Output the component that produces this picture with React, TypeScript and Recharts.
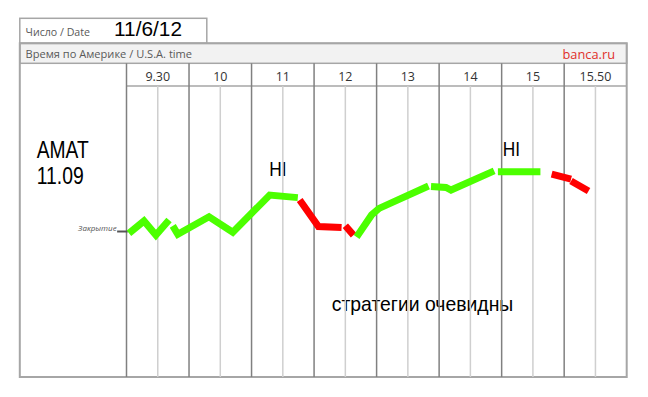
import React from 'react'
import { LineChart, Line, XAxis, YAxis, ReferenceLine } from 'recharts'

// header columns (US session hours)
const hourLabels = ['9.30', '10', '11', '12', '13', '14', '15', '15.50']
const columnCenters = [0.5, 1.5, 2.5, 3.5, 4.5, 5.5, 6.5, 7.5]
const hourLines = [0, 1, 2, 3, 4, 5, 6, 7]
const halfHourLines = [0.5, 1.5, 2.5, 3.5, 4.5, 5.5, 6.5, 7.5]

const ticker = 'AMAT'
const closePrice = 11.09
const priceDomain = [10.36, 11.82]

type Pt = { t: number; v: number }
const pts = (arr: number[][]): Pt[] => arr.map(([t, v]) => ({ t, v }))

// rising pieces (green) and falling pieces (red), t = column index
const up1 = pts([[0.04, 11.081], [0.28, 11.143], [0.47, 11.072], [0.68, 11.148]])
const up2 = pts([[0.74, 11.118], [0.82, 11.076], [1.32, 11.164], [1.7, 11.086], [2.29, 11.273], [2.74, 11.26]])
const down1 = pts([[2.77, 11.248], [3.07, 11.115], [3.44, 11.11]])
const down2 = pts([[3.5, 11.119], [3.63, 11.072]])
const up3 = pts([[3.68, 11.062], [3.92, 11.173], [4.04, 11.206], [4.83, 11.318]])
const up4 = pts([[4.87, 11.316], [5.11, 11.311], [5.19, 11.298], [5.88, 11.394]])
const up5 = pts([[5.94, 11.39], [6.62, 11.39]])
const down3 = pts([[6.8, 11.378], [7.11, 11.353]])
const down4 = pts([[7.11, 11.343], [7.39, 11.293]])

const GREEN = '#4cff00'
const RED = '#ff0000'

const segments = [
  { id: 'up1', data: up1, color: GREEN },
  { id: 'up2', data: up2, color: GREEN },
  { id: 'down1', data: down1, color: RED },
  { id: 'down2', data: down2, color: RED },
  { id: 'up3', data: up3, color: GREEN },
  { id: 'up4', data: up4, color: GREEN },
  { id: 'up5', data: up5, color: GREEN },
  { id: 'down3', data: down3, color: RED },
  { id: 'down4', data: down4, color: RED },
]

// layout
const W = 648
const H = 397
const left = 126.5
const right = 626.7
const frameLeft = 19.8
const headerTop = 43.3
const colRowTop = 63.3
const plotTop = 86
const plotBottom = 377
const colW = (right - left) / 8

const FRAME = '#a6a6a6'
const sans = '"Liberation Sans", Arial, sans-serif'
const ui = '"Open Sans", "Noto Sans", sans-serif'

function HeaderTick(props: any) {
  const { x, index } = props
  return (
    <g>
      <line x1={x - colW / 2} x2={x - colW / 2} y1={colRowTop} y2={plotTop} stroke="#808080" strokeWidth={1.5} />
      <text x={x} y={80.5} textAnchor="middle" fontFamily={ui} fontSize={12.5} fill="#333">
        {hourLabels[index]}
      </text>
    </g>
  )
}

export default function App() {
  return (
    <div style={{ position: 'absolute', left: 0, top: 0, width: W, height: H, background: '#fff' }}>
      <svg width={W} height={H} style={{ position: 'absolute', left: 0, top: 0 }}>
        <rect x={frameLeft} y={18.3} width={187} height={headerTop - 18.3} fill="#fff" stroke={FRAME} strokeWidth={1.5} />
        <rect x={frameLeft} y={headerTop} width={right - frameLeft} height={colRowTop - headerTop} fill="#f2f2f2" stroke={FRAME} strokeWidth={1.5} />
        <rect x={frameLeft} y={headerTop} width={right - frameLeft} height={plotBottom - headerTop} fill="none" stroke={FRAME} strokeWidth={2} />
        <line x1={left} x2={right} y1={plotTop} y2={plotTop} stroke={FRAME} strokeWidth={1.5} />

        <text x={25.6} y={36} fontFamily={ui} fontSize={11} fill="#595959" textLength={64.4} lengthAdjust="spacingAndGlyphs">
          Число / Date
        </text>
        <text x={114} y={36} fontFamily={sans} fontSize={21} fill="#000" textLength={68} lengthAdjust="spacingAndGlyphs">
          11/6/12
        </text>
        <text x={25.6} y={57.5} fontFamily={ui} fontSize={11} fill="#595959" textLength={166.5} lengthAdjust="spacingAndGlyphs">
          Время по Америке / U.S.A. time
        </text>
        <text x={562.5} y={58.5} fontFamily={ui} fontSize={13} fill="#e0302a" textLength={52.5} lengthAdjust="spacingAndGlyphs">
          banca.ru
        </text>

        <text x={36.7} y={158.3} fontFamily={sans} fontSize={24.5} fill="#000" textLength={52} lengthAdjust="spacingAndGlyphs">
          {ticker}
        </text>
        <text x={36.7} y={184} fontFamily={sans} fontSize={24.5} fill="#000" textLength={47} lengthAdjust="spacingAndGlyphs">
          {closePrice.toFixed(2)}
        </text>
        <text x={269.3} y={176} fontFamily={sans} fontSize={20} fill="#000" textLength={17.3} lengthAdjust="spacingAndGlyphs">
          HI
        </text>
        <text x={502.7} y={156} fontFamily={sans} fontSize={20} fill="#000" textLength={17.3} lengthAdjust="spacingAndGlyphs">
          HI
        </text>
        <text x={331.7} y={311} fontFamily={sans} fontSize={21} fill="#000" textLength={181.6} lengthAdjust="spacingAndGlyphs">
          стратегии очевидны
        </text>
        <text x={116.7} y={231} textAnchor="end" fontFamily={ui} fontStyle="italic" fontSize={8} fill="#555">
          Закрытие
        </text>
      </svg>

      <div style={{ position: 'absolute', left: 0, top: 0 }}>
        <LineChart width={W} height={H} margin={{ top: colRowTop, right: W - right, bottom: H - plotBottom, left }}>
          <XAxis
            dataKey="t"
            type="number"
            orientation="top"
            domain={[0, 8]}
            ticks={columnCenters}
            interval={0}
            height={plotTop - colRowTop}
            axisLine={false}
            tickLine={false}
            tick={HeaderTick}
            allowDataOverflow
          />
          <YAxis type="number" domain={priceDomain} hide allowDataOverflow />
          {halfHourLines.map((t) => (
            <ReferenceLine key={'h' + t} x={t} stroke="#cfcfcf" strokeWidth={1.5} />
          ))}
          {hourLines.map((t) => (
            <ReferenceLine key={'m' + t} x={t} stroke="#808080" strokeWidth={1.5} />
          ))}
          <ReferenceLine
            segment={[{ x: -0.15, y: closePrice }, { x: 0.02, y: closePrice }]}
            stroke="#555"
            strokeWidth={2}
            ifOverflow="visible"
          />
          {segments.map((s) => (
            <Line
              key={s.id}
              data={s.data}
              dataKey="v"
              type="linear"
              stroke={s.color}
              strokeWidth={7}
              strokeLinecap="butt"
              strokeLinejoin="miter"
              dot={false}
              activeDot={false}
              isAnimationActive={false}
            />
          ))}
        </LineChart>
      </div>
    </div>
  )
}
